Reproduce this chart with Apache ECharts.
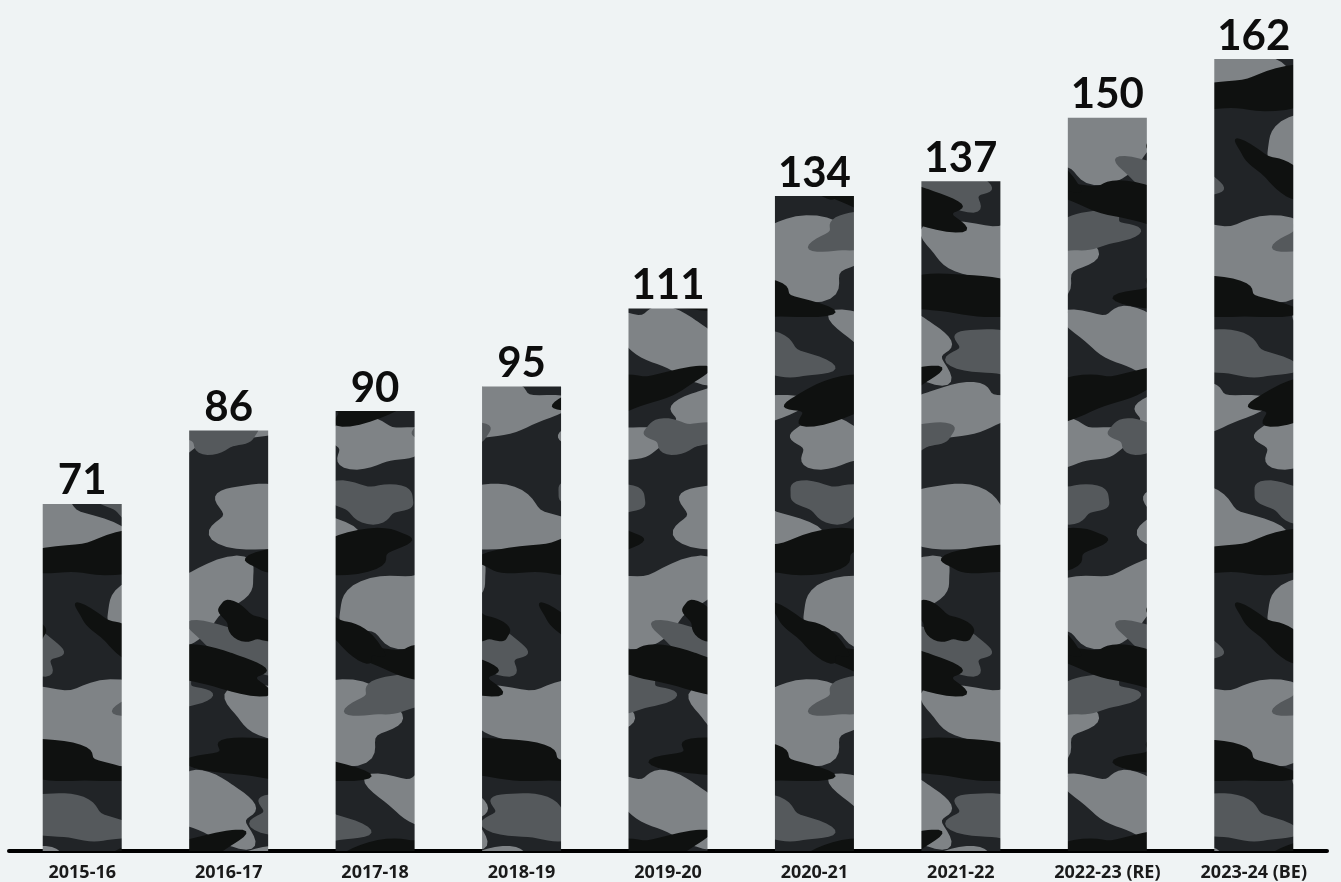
<!DOCTYPE html>
<html>
<head>
<meta charset="utf-8">
<script src="https://cdn.jsdelivr.net/npm/echarts@6/dist/echarts.min.js"></script>
<style>
html,body{margin:0;padding:0;background:#eff3f4;}
#chart{width:1341px;height:882px;}
</style>
</head>
<body>
<div id="chart"></div>
<script>
const categories = ['2015-16','2016-17','2017-18','2018-19','2019-20','2020-21','2021-22','2022-23 (RE)','2023-24 (BE)'];
const values = [71, 86, 90, 95, 111, 134, 137, 150, 162];

// camouflage texture (decoration only)
function makeCamo(){
  const S = 1.45;
  const W = 160, H = 320;
  const c = document.createElement('canvas');
  c.width = Math.round(W*S); c.height = Math.round(H*S);
  const g = c.getContext('2d');
  g.scale(S, S);
  g.fillStyle = '#212427';
  g.fillRect(0,0,W,H);
  const layers = [
    ['#7f8386', [[30,40,48,22,0.2],[125,95,52,24,-0.3],[60,175,58,26,0.1],[140,235,42,20,0.4],[20,285,46,18,-0.2],[100,305,36,16,0]]],
    ['#55595c', [[95,25,30,13,0.1],[10,125,36,14,0.3],[112,160,30,13,-0.2],[50,245,38,15,0.2],[150,300,26,11,0]]],
    ['#0f1110', [[70,62,55,13,-0.15],[140,140,50,13,0.2],[30,205,55,14,0.1],[110,272,52,13,-0.25],[10,110,22,10,0.5],[80,118,30,9,0.6]]]
  ];
  let idx = 0;
  layers.forEach(([col, blobs]) => {
    g.fillStyle = col;
    blobs.forEach(b => {
      idx++;
      const p = idx * 1.37;
      for (let dx=-W; dx<=W; dx+=W) for (let dy=-H; dy<=H; dy+=H) {
        g.beginPath();
        for (let k=0;k<=60;k++){
          const t = k/60*Math.PI*2;
          const r = 1 + 0.18*Math.sin(3*t+p) + 0.1*Math.sin(5*t+2*p);
          const x0 = b[2]*r*Math.cos(t), y0 = b[3]*r*Math.sin(t);
          const x = b[0] + dx + x0*Math.cos(b[4]) - y0*Math.sin(b[4]);
          const y = b[1] + dy + x0*Math.sin(b[4]) + y0*Math.cos(b[4]);
          if (k===0) g.moveTo(x,y); else g.lineTo(x,y);
        }
        g.closePath();
        g.fill();
      }
    });
  });
  return c;
}
const camo = makeCamo();

const chart = echarts.init(document.getElementById('chart'));
chart.setOption({
  backgroundColor: '#eff3f4',
  animation: false,
  grid: {left: 9, right: 14, top: 20, bottom: 31},
  xAxis: {
    type: 'category',
    data: categories,
    axisLine: {lineStyle: {color: '#000', width: 4}},
    axisTick: {show: false},
    axisLabel: {margin: 13, fontSize: 18, fontWeight: 'bold', color: '#1a1a1a', fontFamily: 'Noto Sans', interval: 0}
  },
  yAxis: {type: 'value', min: 0, max: 170, show: false, splitLine: {show: false}},
  series: [{
    type: 'bar',
    data: values,
    barWidth: 79,
    itemStyle: {color: {image: camo, repeat: 'repeat'}},
    label: {show: true, position: 'top', distance: 2, fontSize: 42, fontWeight: 'bold', color: '#0d0d0d', fontFamily: 'Lato'}
  }]
});
</script>
</body>
</html>
